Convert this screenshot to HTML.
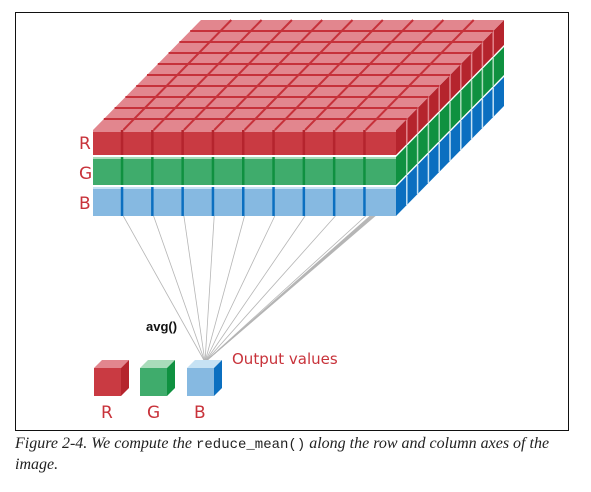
<!DOCTYPE html>
<html><head><meta charset="utf-8"><style>
html,body{margin:0;padding:0;background:#fff;}
body{width:591px;height:492px;overflow:hidden;position:relative;}
svg{position:absolute;left:0;top:0;}
.cap{position:absolute;left:15px;top:434px;width:550px;font-family:"Liberation Serif",serif;font-style:italic;font-size:16px;line-height:20px;color:#222;}
.cap code{font-family:"Liberation Mono",monospace;font-style:normal;font-size:14px;}
</style></head><body>
<svg id="fig" width="591" height="492">
<rect x="15.5" y="12.5" width="553" height="418" fill="none" stroke="#111" stroke-width="1"/>
<g id="lines"></g>
<g id="cube"></g>
<g id="out"></g>
<g font-family="'Comic Sans MS','DejaVu Sans',sans-serif" fill="#c8323a" font-size="17">
<text x="79" y="149">R</text>
<text x="79" y="179">G</text>
<text x="79" y="209">B</text>
<text x="101" y="418">R</text>
<text x="147" y="418">G</text>
<text x="194" y="418">B</text>
<text x="232" y="364" font-size="15">Output values</text>
</g>
<text x="146" y="331" font-family="'Liberation Sans',sans-serif" font-weight="bold" font-size="13" fill="#111">avg()</text>
</svg>
<div class="cap">Figure 2-4. We compute the <code>reduce_mean()</code> along the row and column axes of the<br>image.</div>
<script>
const NS="http://www.w3.org/2000/svg";
function mk(parent,tag,attrs,name){const e=document.createElementNS(NS,tag);for(const k in attrs)e.setAttribute(k,attrs[k]);


parent.appendChild(e);return e;}
const X0=93,X1=396,N=10,DX=108,DY=-110;
const cw=(X1-X0)/N, ddx=DX/N, ddy=DY/N;
const layers=[
 {n:'red',y0:130,y1:155,front:'#c93a42',side:'#b5242d',top:'#e2868e',line:'#c6313a'},
 {n:'green',y0:157,y1:185,front:'#3fac6c',side:'#0f9140',top:'#a9dcba',line:'#17904a'},
 {n:'blue',y0:187,y1:216,front:'#86b9e1',side:'#0b6fc0',top:'#c6e2f4',line:'#1d78c4'}];
const cube=document.getElementById('cube');
const ap=[205,362];
const lg=document.getElementById('lines');
for(let i=1;i<N;i++){mk(lg,'line',{x1:X0+cw*i,y1:216,x2:ap[0],y2:ap[1],stroke:'#b5b5b5','stroke-width':0.8},'avg-line');}
for(let j=0;j<7;j++){mk(lg,'line',{x1:370+j*2,y1:216-j,x2:ap[0],y2:ap[1],stroke:'#b5b5b5','stroke-width':0.8},'avg-line');}
for(let li=layers.length-1;li>=0;li--){const L=layers[li];
 mk(cube,'polygon',{points:`${X1},${L.y0} ${X1+DX},${L.y0+DY} ${X1+DX},${L.y1+DY} ${X1},${L.y1}`,fill:L.side},L.n+'-side-face');
 for(let r=1;r<N;r++){mk(cube,'line',{x1:X1+ddx*r,y1:L.y0+ddy*r,x2:X1+ddx*r,y2:L.y1+ddy*r,stroke:L.top,'stroke-width':1.5},L.n+'-side-divider');}
 mk(cube,'rect',{x:X0,y:L.y0,width:X1-X0,height:L.y1-L.y0,fill:L.front},L.n+'-front-face');
 mk(cube,'rect',{x:X0,y:L.y0,width:X1-X0,height:2,fill:L.top},L.n+'-front-top-edge');
 for(let c=1;c<N;c++){mk(cube,'rect',{x:X0+cw*c-2.5,y:L.y0,width:2.5,height:L.y1-L.y0,fill:L.side},L.n+'-front-divider');}
}
const R=layers[0];
mk(cube,'polygon',{points:`${X0},${R.y0} ${X1},${R.y0} ${X1+DX},${R.y0+DY} ${X0+DX},${R.y0+DY}`,fill:R.top},'red-top-face');
for(let r=1;r<N;r++){mk(cube,'line',{x1:X0+ddx*r,y1:R.y0+ddy*r,x2:X1+ddx*r,y2:R.y0+ddy*r,stroke:R.line,'stroke-width':2},'top-row-line');}
for(let c=1;c<N;c++){mk(cube,'line',{x1:X0+cw*c,y1:R.y0,x2:X0+cw*c+DX,y2:R.y0+DY,stroke:R.line,'stroke-width':2},'top-col-line');}
const out=document.getElementById('out');
const ox=[94,140,187];const oy0=368,oy1=396,ow=27,od=8;
ox.forEach((x,i)=>{const L=layers[i];
 mk(out,'polygon',{points:`${x},${oy0} ${x+od},${oy0-od} ${x+ow+od},${oy0-od} ${x+ow},${oy0}`,fill:L.top},L.n+'-output-top');
 mk(out,'polygon',{points:`${x+ow},${oy0} ${x+ow+od},${oy0-od} ${x+ow+od},${oy1-od} ${x+ow},${oy1}`,fill:L.side},L.n+'-output-side');
 mk(out,'rect',{x:x,y:oy0,width:ow,height:oy1-oy0,fill:L.front},L.n+'-output-front');
});
</script>
</body></html>
